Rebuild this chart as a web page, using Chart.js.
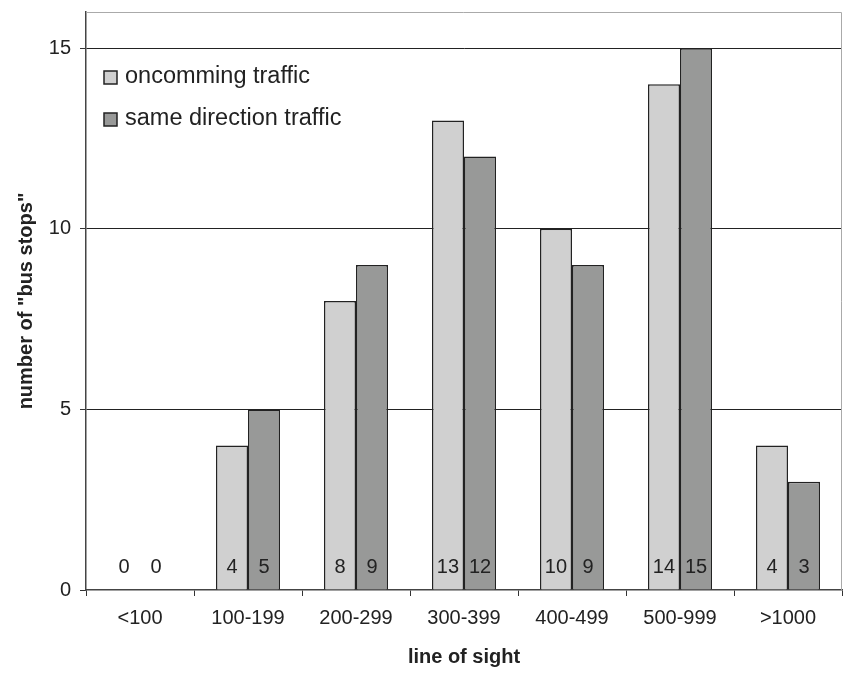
<!DOCTYPE html>
<html>
<head>
<meta charset="UTF-8" />
<title>line of sight</title>
<script src="https://cdn.jsdelivr.net/npm/chart.js"></script>
<style>
  body { margin: 0; background: #fff; }
</style>
</head>
<body>
<canvas id="chart" width="843" height="674"></canvas>

<script>
// data
const categories = ["<100", "100-199", "200-299", "300-399", "400-499", "500-999", ">1000"];
const oncoming = [0, 4, 8, 13, 10, 14, 4];
const sameDirection = [0, 5, 9, 12, 9, 15, 3];
const yTicks = [0, 5, 10, 15];

const FONT = "'Liberation Sans', Arial, sans-serif";
const INK = "#222";

// value labels at the foot of every bar + legend inside plot + light frame
const extras = {
  id: "extras",
  beforeDatasetsDraw(chart) {
    const a = chart.chartArea, ctx = chart.ctx;
    ctx.save();
    ctx.strokeStyle = "#aaa";
    ctx.lineWidth = 1;
    ctx.beginPath();
    ctx.moveTo(a.left, a.top + 0.5);
    ctx.lineTo(a.right - 0.5, a.top + 0.5);
    ctx.lineTo(a.right - 0.5, a.bottom);
    ctx.stroke();
    ctx.restore();
  },
  afterDatasetsDraw(chart) {
    const ctx = chart.ctx, a = chart.chartArea;
    ctx.save();
    ctx.font = "20px " + FONT;
    ctx.fillStyle = INK;
    ctx.textAlign = "center";
    ctx.textBaseline = "alphabetic";
    chart.data.datasets.forEach((ds, i) => {
      chart.getDatasetMeta(i).data.forEach((bar, j) => {
        ctx.fillText(String(ds.data[j]), bar.x, a.bottom - 17);
      });
    });
    // legend
    ctx.textAlign = "left";
    ctx.font = "23.5px " + FONT;
    chart.data.datasets.forEach((ds, i) => {
      const y = 71 + i * 42;
      ctx.fillStyle = ds.backgroundColor;
      ctx.fillRect(104, y, 13, 13);
      ctx.strokeStyle = INK;
      ctx.lineWidth = 1.5;
      ctx.strokeRect(104, y, 13, 13);
      ctx.fillStyle = INK;
      ctx.fillText(ds.label, 125, y + 12);
    });
    ctx.restore();
  }
};

new Chart(document.getElementById("chart"), {
  type: "bar",
  data: {
    labels: categories,
    datasets: [
      {
        label: "oncomming traffic",
        data: oncoming,
        backgroundColor: "#d0d0d0",
        borderColor: INK,
        borderWidth: 1.5,
        borderSkipped: "bottom"
      },
      {
        label: "same direction traffic",
        data: sameDirection,
        backgroundColor: "#989998",
        borderColor: INK,
        borderWidth: 1.5,
        borderSkipped: "bottom"
      }
    ]
  },
  options: {
    responsive: false,
    devicePixelRatio: 1,
    animation: false,
    layout: { padding: { top: 12, right: 1, left: 0, bottom: 0 } },
    datasets: { bar: { categoryPercentage: 0.593, barPercentage: 1 } },
    plugins: { legend: { display: false }, tooltip: { enabled: false } },
    scales: {
      x: {
        grid: { drawOnChartArea: false, drawTicks: true, tickLength: 6, tickColor: "#333", offset: true },
        border: { color: "#444", width: 1.5 },
        ticks: { color: INK, font: { family: FONT, size: 20 }, padding: 10, maxRotation: 0 },
        title: { display: true, text: "line of sight", color: INK, font: { family: FONT, size: 20, weight: "bold" }, padding: { top: 0, bottom: 5 } },
        afterFit(scale) { scale.height = 84; scale.paddingLeft = 0; scale.paddingRight = 0; }
      },
      y: {
        min: 0,
        max: 16,
        afterBuildTicks(scale) { scale.ticks = yTicks.map(v => ({ value: v })); },
        grid: {
          color: ctx => (ctx.tick && ctx.tick.value > 0 ? "#222" : "rgba(0,0,0,0)"),
          lineWidth: 1,
          tickLength: 6,
          tickColor: "#333"
        },
        border: { color: "#444", width: 1.5 },
        ticks: { color: INK, font: { family: FONT, size: 20 }, padding: 9 },
        title: { display: true, text: 'number of "bus stops"', color: INK, font: { family: FONT, size: 20, weight: "bold" }, padding: { top: 14, bottom: 0 } },
        afterFit(scale) { scale.width = 86; scale.paddingTop = 0; scale.paddingBottom = 0; }
      }
    }
  },
  plugins: [extras]
});
</script>
</body>
</html>
